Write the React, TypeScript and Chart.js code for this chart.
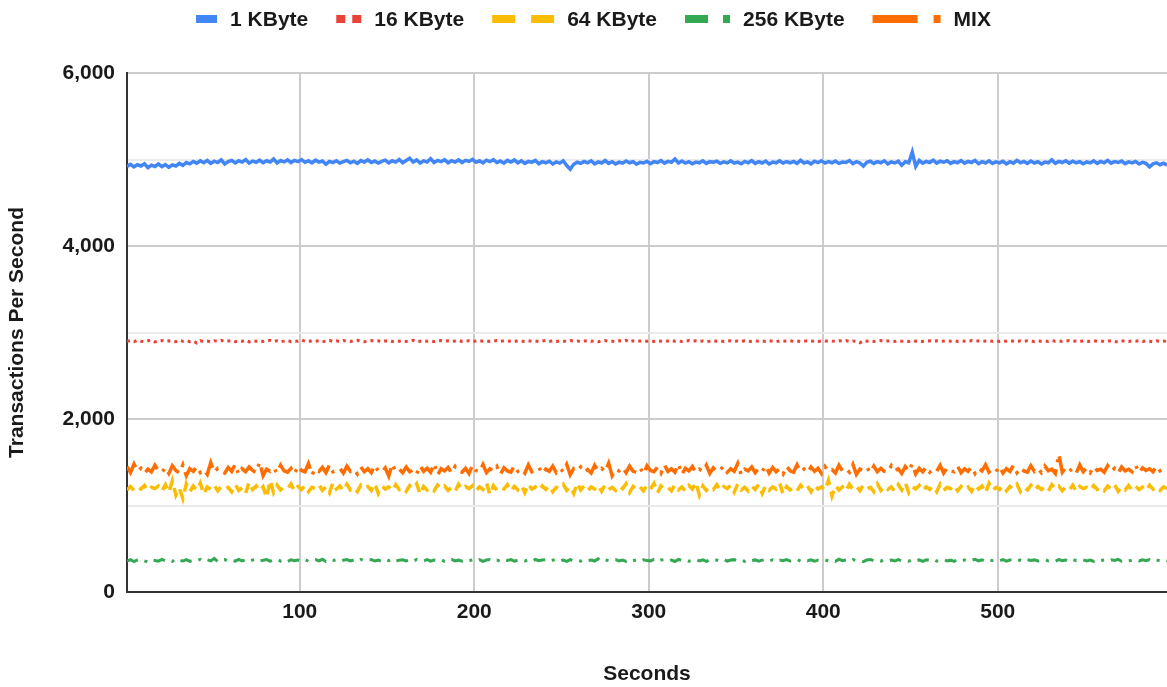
import React, { useEffect, useRef } from "react";
import { Chart, registerables } from "chart.js";

Chart.register(...registerables);

// ---------- data (one value every 2 seconds, 1 … 597 s) ----------
const seconds: number[] = Array.from({ length: 299 }, (_, i) => 1 + i * 2);

const kb1: number[] = [
  4920, 4945, 4915, 4940, 4925, 4950, 4905, 4935, 4920, 4948,
  4918, 4940, 4910, 4938, 4925, 4955, 4932, 4965, 4950, 4978,
  4958, 4985, 4962, 4990, 4955, 4980, 4965, 4995, 4948, 4975,
  4990, 4960, 4985, 4970, 5000, 4958, 4982, 4968, 4992, 4962,
  4985, 4970, 5005, 4960, 4988, 4972, 4995, 4965, 4990, 4975,
  4998, 4968, 4985, 4960, 4992, 4970, 4982, 4945, 4978, 4965,
  4985, 4958, 4975, 4990, 4962, 4980, 4955, 4988, 4970, 4995,
  4965, 4982, 4958, 4978, 4992, 4960, 4985, 4970, 5000, 4962,
  4988, 5015, 4970, 4995, 4960, 4985, 4972, 5008, 4965, 4990,
  4975, 4998, 4962, 4985, 4970, 4995, 4965, 4990, 4978, 5002,
  4968, 4985, 4960, 4992, 4975, 4998, 4965, 4982, 4958, 4990,
  4970, 4995, 4962, 4985, 4955, 4978, 4968, 4990, 4950, 4975,
  4962, 4980, 4948, 4972, 4958, 4985, 4930, 4888, 4945, 4968,
  4955, 4978, 4962, 4985, 4950, 4972, 4960, 4988, 4955, 4975,
  4948, 4970, 4958, 4982, 4962, 4975, 4945, 4968, 4960, 4980,
  4952, 4975, 4965, 4988, 4958, 4978, 4968, 5005, 4960, 4982,
  4958, 4975, 4950, 4970, 4962, 4985, 4955, 4975, 4968, 4980,
  4955, 4972, 4960, 4985, 4958, 4970, 4950, 4978, 4962, 4988,
  4955, 4975, 4960, 4982, 4948, 4970, 4962, 4985, 4958, 4975,
  4962, 4978, 4955, 4990, 4960, 4972, 4950, 4980, 4965, 4985,
  4958, 4975, 4962, 4982, 4955, 4970, 4965, 4988, 4952, 4975,
  4960, 4925, 4968, 4980, 4955, 4975, 4962, 4985, 4950, 4972,
  4960, 4980, 4935, 4975, 4962, 5085, 4920, 4990, 4958, 4978,
  4965, 4992, 4958, 4980, 4968, 4985, 4955, 4975, 4962, 4988,
  4958, 4978, 4965, 4990, 4952, 4975, 4960, 4985, 4955, 4972,
  4962, 4980, 4950, 4975, 4958, 4990, 4962, 4978, 4955, 4982,
  4960, 4975, 4948, 4970, 4962, 4995, 4955, 4978, 4965, 4985,
  4958, 4980, 4962, 4975, 4950, 4972, 4960, 4985, 4955, 4978,
  4962, 4990, 4958, 4975, 4965, 4982, 4952, 4972, 4960, 4978,
  4948, 4968, 4955, 4915, 4950, 4962, 4940, 4958, 4935,
];

const kb16: number[] = [
  2898, 2906, 2893, 2910, 2900, 2895, 2904, 2912, 2891, 2902,
  2908, 2896, 2904, 2900, 2893, 2910, 2898, 2906, 2894, 2902,
  2878, 2905, 2896, 2902, 2890, 2904, 2899, 2910, 2895, 2901,
  2906, 2893, 2902, 2898, 2910, 2892, 2904, 2899, 2907, 2896,
  2902, 2910, 2897, 2905, 2893, 2900, 2908, 2895, 2903, 2898,
  2912, 2900, 2894, 2906, 2899, 2904, 2891, 2902, 2909, 2897,
  2903, 2895, 2908, 2900, 2896, 2905, 2910, 2898, 2893, 2902,
  2906, 2899, 2904, 2892, 2901, 2908, 2896, 2903, 2899, 2905,
  2897, 2902, 2910, 2894, 2900, 2906, 2898, 2903, 2895, 2901,
  2907, 2899, 2904, 2896, 2902, 2909, 2897, 2900, 2905, 2893,
  2901, 2906, 2898, 2903, 2895, 2900, 2908, 2897, 2904, 2899,
  2902, 2894, 2906, 2900, 2897, 2905, 2899, 2903, 2896, 2901,
  2908, 2898, 2902, 2895, 2904, 2900, 2897, 2906, 2899, 2903,
  2895, 2901, 2907, 2898, 2904, 2893, 2902, 2906, 2897, 2900,
  2893, 2905, 2898, 2910, 2890, 2903, 2896, 2901, 2906, 2899,
  2903, 2897, 2905, 2900, 2894, 2902, 2908, 2898, 2903, 2896,
  2901, 2906, 2899, 2904, 2897, 2902, 2895, 2900, 2907, 2898,
  2903, 2896, 2901, 2905, 2899, 2902, 2894, 2906, 2900, 2897,
  2904, 2899, 2902, 2896, 2905, 2900, 2893, 2903, 2898, 2901,
  2906, 2897, 2903, 2895, 2900, 2905, 2898, 2902, 2895, 2904,
  2899, 2906, 2901, 2897, 2904, 2900, 2908, 2896, 2902, 2899,
  2882, 2905, 2899, 2903, 2896, 2901, 2906, 2898, 2903, 2900,
  2897, 2904, 2899, 2902, 2895, 2906, 2900, 2903, 2897, 2901,
  2905, 2898, 2903, 2896, 2901, 2907, 2899, 2904, 2897, 2902,
  2900, 2895, 2906, 2899, 2903, 2897, 2901, 2905, 2898, 2904,
  2896, 2902, 2899, 2906, 2900, 2894, 2903, 2898, 2905, 2901,
  2897, 2904, 2900, 2902, 2896, 2905, 2899, 2903, 2897, 2901,
  2906, 2898, 2902, 2895, 2904, 2900, 2897, 2906, 2899, 2903,
  2895, 2901, 2905, 2898, 2887, 2900, 2904, 2897, 2902, 2899,
  2905, 2896, 2903, 2899, 2892, 2904, 2898, 2901, 2896,
];

const kb64: number[] = [
  1180, 1220, 1175, 1215, 1190, 1230, 1170, 1210, 1195, 1225,
  1165, 1240, 1150, 1285, 1120, 1205, 1080, 1250, 1160, 1225,
  1175, 1260, 1130, 1215, 1185, 1235, 1170, 1220, 1190, 1210,
  1160, 1245, 1175, 1205, 1140, 1270, 1185, 1225, 1165, 1215,
  1090, 1290, 1150, 1235, 1180, 1215, 1195, 1250, 1165, 1220,
  1185, 1230, 1160, 1210, 1195, 1240, 1175, 1215, 1145, 1265,
  1190, 1225, 1170, 1245, 1180, 1210, 1160, 1235, 1195, 1220,
  1175, 1255, 1140, 1225, 1190, 1215, 1170, 1240, 1185, 1210,
  1165, 1230, 1195, 1250, 1130, 1220, 1180, 1210, 1170, 1235,
  1190, 1225, 1175, 1205, 1160, 1245, 1185, 1220, 1195, 1230,
  1170, 1215, 1185, 1265, 1125, 1230, 1175, 1210, 1190, 1240,
  1165, 1220, 1180, 1235, 1150, 1250, 1190, 1215, 1170, 1225,
  1185, 1230, 1160, 1210, 1195, 1245, 1175, 1220, 1140, 1260,
  1180, 1225, 1170, 1215, 1190, 1235, 1165, 1240, 1185, 1210,
  1175, 1230, 1195, 1250, 1150, 1220, 1180, 1215, 1170, 1235,
  1190, 1255, 1145, 1225, 1185, 1210, 1170, 1240, 1180, 1215,
  1165, 1230, 1190, 1270, 1120, 1225, 1175, 1215, 1185, 1240,
  1170, 1220, 1195, 1235, 1155, 1250, 1180, 1210, 1165, 1225,
  1185, 1245, 1140, 1230, 1175, 1215, 1190, 1260, 1130, 1220,
  1180, 1210, 1170, 1235, 1185, 1225, 1160, 1240, 1190, 1215,
  1175, 1290, 1110, 1230, 1180, 1215, 1165, 1245, 1185, 1220,
  1170, 1235, 1190, 1210, 1160, 1250, 1175, 1225, 1185, 1215,
  1165, 1240, 1180, 1265, 1150, 1220, 1190, 1230, 1170, 1215,
  1185, 1225, 1160, 1245, 1175, 1210, 1195, 1235, 1170, 1220,
  1180, 1215, 1165, 1240, 1190, 1225, 1145, 1255, 1175, 1210,
  1185, 1230, 1170, 1220, 1190, 1245, 1160, 1215, 1180, 1235,
  1175, 1220, 1185, 1210, 1165, 1240, 1190, 1225, 1170, 1215,
  1180, 1235, 1160, 1220, 1195, 1210, 1175, 1230, 1185, 1215,
  1170, 1225, 1190, 1240, 1165, 1215, 1180, 1230, 1175, 1220,
  1185, 1210, 1170, 1235, 1190, 1220, 1175, 1215, 1195,
];

const kb256: number[] = [
  358, 374, 352, 370, 380, 360, 348, 372, 364, 356,
  376, 360, 370, 354, 382, 366, 358, 374, 355, 370,
  362, 378, 356, 372, 360, 388, 352, 370, 374, 358,
  368, 356, 376, 360, 372, 354, 370, 380, 359, 366,
  374, 356, 368, 377, 358, 371, 352, 373, 362, 370,
  358, 376, 355, 369, 374, 360, 378, 353, 371, 364,
  372, 356, 368, 375, 359, 370, 354, 377, 361, 369,
  374, 358, 370, 353, 373, 362, 380, 357, 368, 372,
  360, 371, 355, 376, 364, 358, 374, 356, 369, 361,
  373, 354, 370, 377, 359, 368, 357, 375, 362, 371,
  358, 374, 355, 369, 376, 360, 370, 353, 372, 364,
  375, 357, 368, 373, 360, 371, 355, 376, 361, 369,
  372, 356, 368, 378, 359, 370, 354, 374, 362, 371,
  357, 375, 363, 370, 358, 384, 355, 372, 362, 368,
  374, 358, 370, 355, 376, 361, 371, 356, 373, 363,
  360, 378, 357, 369, 374, 359, 370, 353, 376, 364,
  372, 356, 367, 375, 360, 371, 354, 373, 362, 369,
  358, 376, 356, 370, 374, 359, 369, 355, 375, 363,
  371, 357, 368, 376, 359, 372, 354, 370, 362, 374,
  358, 369, 377, 356, 371, 361, 373, 357, 368, 364,
  372, 358, 370, 355, 380, 362, 369, 356, 374, 363,
  366, 352, 371, 376, 360, 369, 357, 373, 362, 370,
  358, 375, 361, 368, 356, 374, 363, 371, 355, 372,
  364, 376, 357, 369, 373, 359, 368, 354, 375, 362,
  370, 356, 367, 377, 360, 372, 355, 371, 363, 368,
  359, 374, 357, 370, 376, 361, 368, 353, 373, 364,
  371, 358, 369, 375, 360, 367, 356, 374, 362, 370,
  357, 376, 361, 368, 372, 358, 370, 355, 374, 363,
  369, 358, 372, 364, 377, 356, 370, 360, 366, 373,
  359, 371, 362, 375, 357, 368, 364, 372, 360,
];

const mix: number[] = [
  1450, 1380, 1480, 1395, 1430, 1370, 1420, 1390, 1465, 1400,
  1385, 1440, 1370, 1460, 1405, 1375, 1470, 1345, 1425, 1395,
  1450, 1380, 1415, 1360, 1495, 1385, 1430, 1400, 1375, 1440,
  1395, 1475, 1360, 1425, 1390, 1445, 1405, 1380, 1500, 1345,
  1420, 1395, 1435, 1375, 1465, 1400, 1385, 1430, 1365, 1455,
  1405, 1390, 1485, 1355, 1425, 1395, 1440, 1380, 1470, 1390,
  1410, 1430, 1375, 1455, 1395, 1420, 1365, 1445, 1390, 1425,
  1380, 1465, 1400, 1385, 1435, 1340, 1480, 1395, 1420, 1380,
  1445, 1390, 1415, 1365, 1460, 1395, 1430, 1385, 1485, 1355,
  1425, 1400, 1440, 1375, 1450, 1395, 1385, 1430, 1370, 1465,
  1405, 1390, 1475, 1380, 1425, 1395, 1450, 1360, 1435, 1400,
  1385, 1460, 1395, 1425, 1375, 1470, 1390, 1415, 1440, 1370,
  1420, 1395, 1455, 1380, 1430, 1390, 1475, 1355, 1425, 1400,
  1445, 1385, 1415, 1375, 1465, 1395, 1430, 1390, 1490, 1345,
  1420, 1400, 1440, 1380, 1455, 1395, 1385, 1435, 1365, 1460,
  1405, 1390, 1445, 1375, 1470, 1395, 1425, 1385, 1480, 1360,
  1430, 1400, 1450, 1380, 1420, 1395, 1465, 1370, 1435, 1390,
  1415, 1455, 1385, 1425, 1395, 1485, 1355, 1420, 1400, 1445,
  1380, 1430, 1395, 1460, 1375, 1440, 1390, 1425, 1365, 1455,
  1400, 1385, 1470, 1390, 1420, 1380, 1445, 1395, 1430, 1370,
  1450, 1395, 1415, 1375, 1465, 1400, 1425, 1385, 1475, 1360,
  1420, 1405, 1440, 1380, 1455, 1390, 1430, 1395, 1385, 1460,
  1400, 1425, 1370, 1450, 1395, 1480, 1365, 1430, 1390, 1445,
  1385, 1420, 1395, 1465, 1375, 1435, 1400, 1390, 1455, 1380,
  1425, 1395, 1445, 1370, 1430, 1400, 1470, 1385, 1420, 1390,
  1450, 1375, 1425, 1395, 1465, 1380, 1435, 1400, 1385, 1460,
  1395, 1430, 1380, 1455, 1400, 1420, 1370, 1590, 1385, 1440,
  1400, 1425, 1375, 1470, 1390, 1435, 1380, 1450, 1405, 1420,
  1385, 1460, 1395, 1430, 1375, 1445, 1400, 1420, 1390, 1465,
  1380, 1435, 1405, 1425, 1390, 1455, 1400, 1430, 1410,
];

const seriesLabels = ["1 KByte", "16 KByte", "64 KByte", "256 KByte", "MIX"];
const seriesColors = ["#4285F4", "#EA4335", "#FBBC04", "#34A853", "#FF6D01"];
const xTickValues = [100, 200, 300, 400, 500];
const yLabelValues = [0, 2000, 4000, 6000];

const FONT = '"Liberation Sans", Arial, sans-serif';
const FSIZE = 21;
const TEXT = "#1a1a1a";

// legend marker segments: dash, gap, dash, ...
const legendPatterns: number[][] = [[21], [9, 7, 9], [23, 16, 23], [23, 15, 7], [45, 16, 7]];

const legendPlugin = {
  id: "customLegend",
  afterDraw(chart: any) {
    const ctx = chart.ctx;
    ctx.save();
    ctx.font = `bold ${FSIZE}px ${FONT}`;
    ctx.textBaseline = "middle";
    const y = 19;
    const gap = 28;
    const widths = seriesLabels.map((l, i) => {
      const mw = legendPatterns[i].reduce((a, b) => a + b, 0);
      return mw + 13 + ctx.measureText(l).width;
    });
    const total = widths.reduce((a, b) => a + b, 0) + gap * (widths.length - 1);
    let x = (chart.width - total) / 2 + 10;
    seriesLabels.forEach((l, i) => {
      const pat = legendPatterns[i];
      let px = x;
      ctx.fillStyle = seriesColors[i];
      pat.forEach((seg, k) => {
        if (k % 2 === 0) ctx.fillRect(px, y - 4, seg, 8);
        px += seg;
      });
      ctx.fillStyle = TEXT;
      ctx.textAlign = "left";
      ctx.fillText(l, px + 13, y + 1);
      x += widths[i] + gap;
    });
    ctx.restore();
  },
};

export default function App() {
  const canvasRef = useRef<HTMLCanvasElement | null>(null);

  useEffect(() => {
    if (!canvasRef.current) return;
    const toPts = (arr: number[]) => arr.map((v, i) => ({ x: seconds[i], y: v }));
    const dashes = [[], [3, 4], [10, 7], [12, 7, 3, 7], [20, 7, 3, 7]];
    const widthsPx = [3.5, 3, 3.5, 3, 3.5];
    const values = [kb1, kb16, kb64, kb256, mix];
    const chart = new Chart(canvasRef.current, {
      type: "line",
      data: {
        datasets: values.map((arr, i) => ({
          label: seriesLabels[i],
          data: toPts(arr),
          borderColor: seriesColors[i],
          backgroundColor: seriesColors[i],
          borderWidth: widthsPx[i],
          borderDash: dashes[i],
          borderCapStyle: "butt",
          borderJoinStyle: "miter",
          pointRadius: 0,
          tension: 0,
          fill: false,
        })),
      },
      options: {
        responsive: false,
        animation: false,
        layout: { padding: { top: 73, left: 0, right: 0, bottom: 0 } },
        plugins: { legend: { display: false }, tooltip: { enabled: false } },
        scales: {
          x: {
            type: "linear",
            min: 1,
            max: 597,
            afterBuildTicks: (s: any) => {
              s.ticks = xTickValues.map((v) => ({ value: v }));
            },
            afterFit: (s: any) => {
              s.height = 95;
            },
            ticks: {
              color: TEXT,
              font: { family: FONT, size: FSIZE, weight: "bold" },
              padding: 8,
              maxRotation: 0,
              autoSkip: false,
              callback: (v: any) => String(v),
            },
            grid: { color: "#cccccc", lineWidth: 2, drawTicks: false },
            border: { display: true, color: "#333333", width: 2 },
            title: {
              display: true,
              text: "Seconds",
              color: TEXT,
              font: { family: FONT, size: FSIZE, weight: "bold" },
              padding: { top: 37, bottom: 0 },
            },
          },
          y: {
            min: 0,
            max: 6000,
            afterFit: (s: any) => {
              s.width = 127;
            },
            ticks: {
              stepSize: 1000,
              autoSkip: false,
              color: TEXT,
              padding: 12,
              font: { family: FONT, size: FSIZE, weight: "bold" },
              callback: (v: any) =>
                yLabelValues.includes(Number(v)) ? Number(v).toLocaleString("en-US") : "",
            },
            grid: {
              drawTicks: false,
              lineWidth: 2,
              color: (c: any) =>
                c.tick && yLabelValues.includes(c.tick.value) ? "#cccccc" : "#ebebeb",
            },
            border: { display: true, color: "#333333", width: 2 },
            title: {
              display: true,
              text: "Transactions Per Second",
              color: TEXT,
              font: { family: FONT, size: FSIZE, weight: "bold" },
              padding: { top: 5, bottom: 0 },
            },
          },
        },
      },
      plugins: [legendPlugin],
    } as any);
    return () => chart.destroy();
  }, []);

  return (
    <div style={{ position: "absolute", left: 0, top: 0, width: 1167, height: 687 }}>
      <canvas ref={canvasRef} width={1167} height={687} style={{ display: "block" }} />
    </div>
  );
}
